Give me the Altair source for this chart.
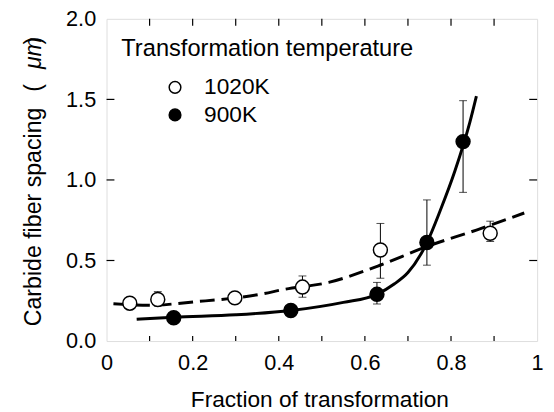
import altair as alt
import pandas as pd

FONT = "Liberation Sans"
FS = 22       # tick labels
FS_T = 23     # titles and legend

# ---- data ----
series_names = ["1020K", "900K"]

open_x = [0.054, 0.119, 0.298, 0.455, 0.636, 0.891]
open_y = [0.235, 0.258, 0.268, 0.335, 0.565, 0.669]

filled_x = [0.156, 0.428, 0.628, 0.744, 0.828]
filled_y = [0.145, 0.190, 0.290, 0.612, 1.238]

err_x = [0.119, 0.455, 0.636, 0.891, 0.628, 0.744, 0.828]
err_lo = [0.218, 0.272, 0.390, 0.618, 0.230, 0.471, 0.923]
err_hi = [0.307, 0.404, 0.730, 0.744, 0.364, 0.876, 1.492]

solid_x = [0.070, 0.156, 0.300, 0.428, 0.550, 0.628, 0.668, 0.700, 0.744, 0.775, 0.809, 0.844, 0.859]
solid_y = [0.135, 0.148, 0.163, 0.190, 0.240, 0.290, 0.354, 0.425, 0.610, 0.810, 1.055, 1.360, 1.520]

dashed_x = [0.016, 0.100, 0.210, 0.300, 0.363, 0.409, 0.516, 0.630, 0.744, 0.859, 0.970]
dashed_y = [0.232, 0.222, 0.245, 0.268, 0.293, 0.319, 0.364, 0.465, 0.587, 0.689, 0.795]

x_label_vals = [0, 0.2, 0.4, 0.6, 0.8, 1.0]
y_label_vals = [0.0, 0.5, 1.0, 1.5, 2.0]
x_minor_ticks = [0.1, 0.2, 0.3, 0.4, 0.5, 0.6, 0.7, 0.8, 0.9]
y_minor_ticks = [0.5, 1.0, 1.5]

ytitle_main = "Carbide fiber spacing"
ytitle_open = "("
ytitle_unit = "μm"
ytitle_close = ")"

# ---- tables ----
pts = pd.DataFrame({
    "x": open_x + filled_x,
    "y": open_y + filled_y,
    "series": [series_names[0]] * len(open_x) + [series_names[1]] * len(filled_x),
})
err = pd.DataFrame({"x": err_x, "y": err_lo, "hi": err_hi})
caps = pd.DataFrame({"x": err_x + err_x, "y": err_lo + err_hi})
solid = pd.DataFrame({"x": solid_x, "y": solid_y})
dashed = pd.DataFrame({"x": dashed_x, "y": dashed_y})
xt = pd.DataFrame({"x": x_minor_ticks})
yt = pd.DataFrame({"y": y_minor_ticks})

W, H = 437, 327

xscale = alt.Scale(domain=[0, 1], nice=False, zero=False)
yscale = alt.Scale(domain=[0, 2], nice=False, zero=False)

x_axis = alt.Axis(
    values=x_label_vals, format="~g", labelFlush=False, tickSize=0, domain=False,
    grid=False, labelPadding=12, labelFontSize=FS, labelFont=FONT, labelColor="black",
    title="Fraction of transformation", titleFontSize=FS_T, titleFont=FONT,
    titleFontWeight="normal", titleColor="black", titleBaseline="alphabetic",
    titleY=66, titleX=216, titleAnchor="middle", titleAlign="center",
)
y_axis = alt.Axis(
    values=y_label_vals, format=".1f", labelFlush=False, tickSize=0, domain=False,
    grid=False, labelPadding=11, labelFontSize=FS, labelFont=FONT, labelColor="black",
    title=None,
)

X = alt.X("x:Q", scale=xscale, axis=x_axis)
Y = alt.Y("y:Q", scale=yscale, axis=y_axis)

solid_line = alt.Chart(solid).mark_line(color="black", strokeWidth=3, interpolate="monotone").encode(x=X, y=Y)
dashed_line = alt.Chart(dashed).mark_line(color="black", strokeWidth=3, strokeDash=[15, 7], interpolate="monotone").encode(x=X, y=Y)

err_rule = alt.Chart(err).mark_rule(color="black", strokeWidth=1).encode(x=X, y=Y, y2="hi:Q")
err_caps = alt.Chart(caps).mark_tick(color="black", orient="horizontal", size=8, thickness=1).encode(x=X, y=Y)

legend = alt.Legend(
    title="Transformation temperature", orient="none", legendX=15, legendY=19,
    direction="vertical", symbolType="circle", symbolSize=140,
    symbolStrokeColor="black", symbolStrokeWidth=1.5, symbolOffset=43,
    labelOffset=18, titlePadding=15, rowPadding=4, padding=0,
    titleFontSize=24, labelFontSize=FS_T, titleFont=FONT, labelFont=FONT,
    titleFontWeight="normal", titleColor="black", labelColor="black", titleLimit=500,
)

points = alt.Chart(pts).mark_point(filled=True, size=200, stroke="black", strokeWidth=1.5, opacity=1).encode(
    x=X, y=Y,
    fill=alt.Fill("series:N", scale=alt.Scale(domain=series_names, range=["white", "black"]), legend=legend),
)

tick_bottom = alt.Chart(xt).mark_rule(color="black", strokeWidth=1.2).encode(x=X, y=alt.value(H), y2=alt.value(H - 5))
tick_top = alt.Chart(xt).mark_rule(color="black", strokeWidth=1.2).encode(x=X, y=alt.value(0), y2=alt.value(7))
tick_left = alt.Chart(yt).mark_rule(color="black", strokeWidth=1.2).encode(y=Y, x=alt.value(0), x2=alt.value(8))
tick_right = alt.Chart(yt).mark_rule(color="black", strokeWidth=1.2).encode(y=Y, x=alt.value(W), x2=alt.value(W - 8))


def ytext(txt, ypos, size, style="normal"):
    return alt.Chart(pd.DataFrame({"t": [txt]})).mark_text(
        angle=270, align="left", baseline="middle", font=FONT, fontSize=size,
        fontStyle=style, color="black",
    ).encode(text="t:N", x=alt.value(-74), y=alt.value(ypos))


t1 = ytext(ytitle_main, 312, 23.5)
t2 = ytext(ytitle_open, 74, 23.5)
t3 = ytext(ytitle_unit, 51, 23.5, "italic")
t4 = ytext(ytitle_close, 26, 23.5)

chart = alt.layer(
    dashed_line, solid_line, err_rule, err_caps, points,
    tick_bottom, tick_top, tick_left, tick_right, t1, t2, t3, t4,
).properties(
    width=W, height=H,
    autosize=alt.AutoSizeParams(type="none"),
    padding={"left": 100, "top": 8, "right": 9, "bottom": 69},
).configure_view(stroke="black", strokeWidth=1.5).configure(background="white")

chart.save("out.html", embed_options={"renderer": "svg", "actions": False})
